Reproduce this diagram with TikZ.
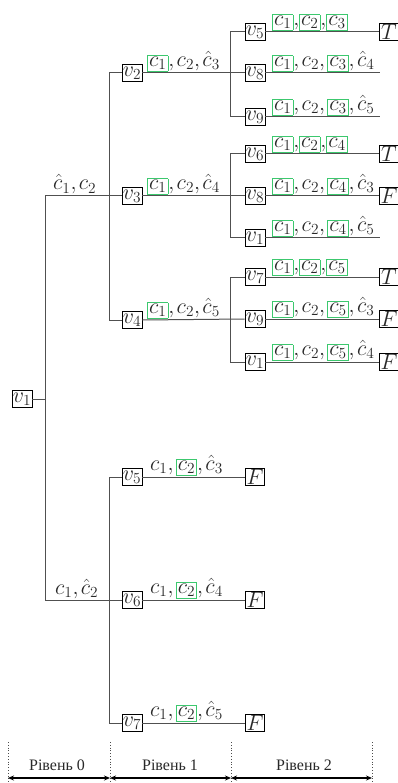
\RequirePackage{fix-cm}
\documentclass[tikz,border=0pt]{standalone}
\usepackage{fontspec}
\newfontfamily\cyrfont{Liberation Serif}
\usetikzlibrary{arrows.meta}
\definecolor{gbox}{RGB}{60,200,110}
\definecolor{lncol}{RGB}{80,80,80}
\definecolor{txtcol}{RGB}{40,40,40}
\newcommand{\gbx}[1]{{\setlength{\fboxsep}{1.1pt}\setlength{\fboxrule}{0.8pt}\fcolorbox{gbox}{white}{$#1$}}}
\thinmuskip=2mu\relax
\begin{document}
\begin{tikzpicture}[x=1pt,y=-1pt,
  mfont/.style={font=\fontsize{22}{26}\selectfont},
  vbox/.style={draw=black, line width=0.8pt, fill=white, inner sep=0pt, minimum width=20pt, minimum height=17pt, mfont, text=txtcol},
  tfbox/.style={vbox, minimum width=19pt},
  conn/.style={draw=lncol, line width=1pt},
  lab/.style={anchor=base west, inner sep=0pt, mfont, text=txtcol},
  dotl/.style={draw=black!70, line width=0.8pt, dotted},
  lvarr/.style={draw=black, line width=1.2pt, {Stealth[length=6pt,width=5pt]}-{Stealth[length=6pt,width=5pt]}},
  lvtxt/.style={font=\cyrfont\fontsize{16}{18}\selectfont, text=txtcol, anchor=base}]
\useasboundingbox (0,0) rectangle (398,783);

% ---------- level 0 ----------
\node[vbox] (v1) at (22,399) {$v_1$};
\coordinate (j0) at (45,399);
\coordinate (j0t) at (45,196);
\coordinate (j0b) at (45,600);

% ---------- level 1 ----------
\node[vbox] (n2) at (132,73) {$v_2$};
\node[vbox] (n3) at (132,196) {$v_3$};
\node[vbox] (n4) at (132,320) {$v_4$};
\node[vbox] (n5) at (132,477) {$v_5$};
\node[vbox] (n6) at (132,600) {$v_6$};
\node[vbox] (n7) at (132,723) {$v_7$};

% ---------- level 2 ----------
\node[vbox] (aa) at (255,32) {$v_5$};
\node[vbox] (ab) at (255,73) {$v_8$};
\node[vbox] (ac) at (255,117) {$v_9$};
\node[vbox] (ba) at (255,154) {$v_6$};
\node[vbox] (bb) at (255,196) {$v_8$};
\node[vbox] (bc) at (255,238) {$v_1$};
\node[vbox] (ca) at (255,277) {$v_7$};
\node[vbox] (cb) at (255,319) {$v_9$};
\node[vbox] (cc) at (255,362) {$v_1$};

% ---------- ends ----------
\node[tfbox] (taa) at (389,32) {$T$};
\coordinate (eab) at (380,73);
\coordinate (eac) at (380,117);
\node[tfbox] (tba) at (389,154) {$T$};
\node[tfbox] (fbb) at (389,196) {$F$};
\coordinate (ebc) at (380,238);
\node[tfbox] (tca) at (389,277) {$T$};
\node[tfbox] (fcb) at (389,319) {$F$};
\node[tfbox] (fcc) at (389,362) {$F$};
\node[tfbox] (f5) at (255,477) {$F$};
\node[tfbox] (f6) at (255,600) {$F$};
\node[tfbox] (f7) at (255,723) {$F$};

% ---------- connectors ----------
\draw[conn] (v1.east) -- (j0);
\draw[conn] (j0t) -- (j0b);
\draw[conn] (j0t) -- (n3.west);
\draw[conn] (j0b) -- (n6.west);
\draw[conn] (n2.west) -- ++(-12,0) |- (n4.west);
\draw[conn] (n5.west) -- ++(-12,0) |- (n7.west);

\draw[conn] (aa.west) -- ++(-14,0) |- (ac.west);
\draw[conn] (n2.east) -- (ab.west);
\draw[conn] (ba.west) -- ++(-14,0) |- (bc.west);
\draw[conn] (n3.east) -- (bb.west);
\draw[conn] (ca.west) -- ++(-14,0) |- (cc.west);
\draw[conn] (n4.east) -- (cb.west);

\draw[conn] (aa.east) -- (taa.west);
\draw[conn] (ab.east) -- (eab);
\draw[conn] (ac.east) -- (eac);
\draw[conn] (ba.east) -- (tba.west);
\draw[conn] (bb.east) -- (fbb.west);
\draw[conn] (bc.east) -- (ebc);
\draw[conn] (ca.east) -- (tca.west);
\draw[conn] (cb.east) -- (fcb.west);
\draw[conn] (cc.east) -- (fcc.west);
\draw[conn] (n5.east) -- (f5.west);
\draw[conn] (n6.east) -- (f6.west);
\draw[conn] (n7.east) -- (f7.west);

% ---------- edge labels ----------
\node[lab] at (53,190) {$\hat{c}_1, c_2$};
\node[lab] at (55,594) {$c_1, \hat{c}_2$};

\node[lab] at (147,66.5) {$\gbx{c_1}, c_2, \hat{c}_3$};
\node[lab] at (147,189.5) {$\gbx{c_1}, c_2, \hat{c}_4$};
\node[lab] at (147,313.5) {$\gbx{c_1}, c_2, \hat{c}_5$};
\node[lab] at (150,470.5) {$c_1, \gbx{c_2}, \hat{c}_3$};
\node[lab] at (150,593.5) {$c_1, \gbx{c_2}, \hat{c}_4$};
\node[lab] at (150,716.5) {$c_1, \gbx{c_2}, \hat{c}_5$};

\node[lab] at (272,25.5) {$\gbx{c_1}{,}\gbx{c_2}{,}\gbx{c_3}$};
\node[lab] at (272,66.5) {$\gbx{c_1}, c_2, \gbx{c_3}, \hat{c}_4$};
\node[lab] at (272,110.5) {$\gbx{c_1}, c_2, \gbx{c_3}, \hat{c}_5$};
\node[lab] at (272,147.5) {$\gbx{c_1}{,}\gbx{c_2}{,}\gbx{c_4}$};
\node[lab] at (272,189.5) {$\gbx{c_1}, c_2, \gbx{c_4}, \hat{c}_3$};
\node[lab] at (272,231.5) {$\gbx{c_1}, c_2, \gbx{c_4}, \hat{c}_5$};
\node[lab] at (272,270.5) {$\gbx{c_1}{,}\gbx{c_2}{,}\gbx{c_5}$};
\node[lab] at (272,312.5) {$\gbx{c_1}, c_2, \gbx{c_5}, \hat{c}_3$};
\node[lab] at (272,355.5) {$\gbx{c_1}, c_2, \gbx{c_5}, \hat{c}_4$};

% ---------- levels ----------
\coordinate (d0t) at (8,742);   \coordinate (d0b) at (8,783);
\coordinate (d1t) at (110,742); \coordinate (d1b) at (110,783);
\coordinate (d2t) at (231,742); \coordinate (d2b) at (231,783);
\coordinate (d3t) at (372,742); \coordinate (d3b) at (372,783);
\draw[dotl] (d0t) -- (d0b);
\draw[dotl] (d1t) -- (d1b);
\draw[dotl] (d2t) -- (d2b);
\draw[dotl] (d3t) -- (d3b);
\coordinate (a0) at (8,778);
\coordinate (a1) at (110,778);
\coordinate (a2) at (231,778);
\coordinate (a3) at (372,778);
\draw[lvarr] (a0) -- (a1);
\draw[lvarr] (a1) -- (a2);
\draw[lvarr] (a2) -- (a3);
\node[lvtxt] (l0) at (57,770) {Рівень 0};
\node[lvtxt] (l1) at (170,770) {Рівень 1};
\node[lvtxt] (l2) at (304,770) {Рівень 2};
\end{tikzpicture}
\end{document}
